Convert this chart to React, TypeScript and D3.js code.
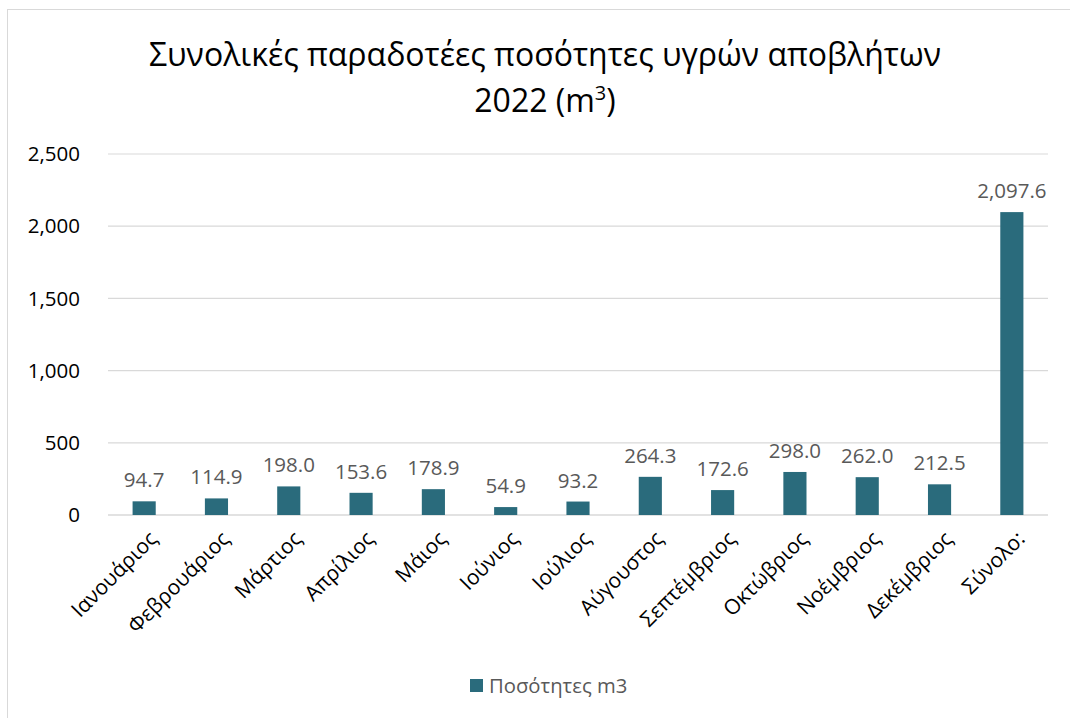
import React from "react";
import * as d3 from "d3";

const categories = ["Ιανουάριος","Φεβρουάριος","Μάρτιος","Απρίλιος","Μάιος","Ιούνιος","Ιούλιος","Αύγουστος","Σεπτέμβριος","Οκτώβριος","Νοέμβριος","Δεκέμβριος","Σύνολο:"];
const values = [94.7,114.9,198.0,153.6,178.9,54.9,93.2,264.3,172.6,298.0,262.0,212.5,2097.6];
const yTicks = [0,500,1000,1500,2000,2500];
const seriesName = "Ποσότητες m3";

const W = 1070, H = 718;
const left = 108, right = 1048, top = 154, bottom = 515;
const color = "#2a6b7c";
const font = "'Open Sans', 'Noto Sans', sans-serif";

export default function App() {
  const x = d3.scaleBand<string>().domain(categories).range([left, right]).paddingInner(0.68).paddingOuter(0.34);
  const y = d3.scaleLinear().domain([0, 2500]).range([bottom, top]);
  const fmtTick = d3.format(",");
  const fmtVal = d3.format(",.1f");
  return (
    <svg width={W} height={H} style={{ position: "absolute", left: 0, top: 0 }}>
      <rect x={0} y={0} width={W} height={H} fill="#fff" />
      <rect x={7.5} y={9.5} width={W + 10} height={H + 10} fill="none" stroke="#d9d9d9" strokeWidth={1} />
      <text x={545} y={66} textAnchor="middle" fontFamily={font} fontSize={32} fill="#000">Συνολικές παραδοτέες ποσότητες υγρών αποβλήτων</text>
      <text x={545} y={112} textAnchor="middle" fontFamily={font} fontSize={32} fill="#000">2022 (m<tspan dy={-12} fontSize={20}>3</tspan><tspan dy={12}>)</tspan></text>
      {yTicks.map(t => (
        <g key={t}>
          <line x1={left} x2={right} y1={y(t)} y2={y(t)} stroke="#d9d9d9" strokeWidth={t === 0 ? 1.5 : 1.2} />
          <text x={80} y={y(t)} dy="0.35em" textAnchor="end" fontFamily={font} fontSize={20.5} fill="#000">{fmtTick(t)}</text>
        </g>
      ))}
      {categories.map((c, i) => {
        const bx = x(c)!;
        const cx = bx + x.bandwidth() / 2;
        return (
          <g key={c}>
            <rect x={bx} y={y(values[i])} width={x.bandwidth()} height={bottom - y(values[i])} fill={color} />
            <text x={cx} y={y(values[i]) - 14} textAnchor="middle" fontFamily={font} fontSize={20.5} fill="#595959">{fmtVal(values[i])}</text>
            <text transform={`translate(${cx + 9},${bottom + 20}) rotate(-45)`} textAnchor="end" dy="0.35em" fontFamily={font} fontSize={21} fill="#000">{c}</text>
          </g>
        );
      })}
      <rect x={470} y={679} width={13} height={13} fill={color} />
      <text x={489} y={686} dy="0.35em" fontFamily={font} fontSize={20.3} fill="#595959">{seriesName}</text>
    </svg>
  );
}
